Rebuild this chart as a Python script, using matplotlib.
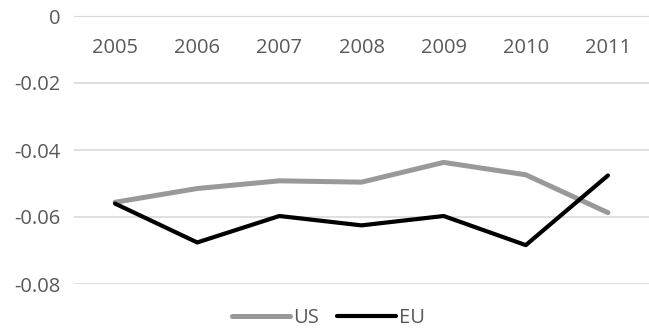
import matplotlib.pyplot as plt
import numpy as np

years = ['2005', '2006', '2007', '2008', '2009', '2010', '2011']
us = [-0.0556, -0.0515, -0.0492, -0.0496, -0.0437, -0.0474, -0.0587]
eu = [-0.0560, -0.0676, -0.0597, -0.0625, -0.0597, -0.0684, -0.0476]
yticks = [0, -0.02, -0.04, -0.06, -0.08]
ylabels = ['0', '-0.02', '-0.04', '-0.06', '-0.08']

plt.rcParams['font.family'] = ['Open Sans', 'DejaVu Sans']
txt = '#595959'

fig = plt.figure(figsize=(6.49, 3.31), dpi=100)
ax = fig.add_axes([74/649, 1-284/331, 1-74/649, (284-16)/331])

x = np.arange(len(years))
ax.plot(x, us, color='#999999', lw=3.6, solid_capstyle='round', label='US')
ax.plot(x, eu, color='black', lw=3.0, solid_capstyle='round', label='EU')

ax.set_xlim(-0.5, len(years)-0.5)
ax.set_ylim(-0.08, 0)
ax.set_yticks(yticks)
ax.set_yticklabels(ylabels)
ax.grid(axis='y', color='#d9d9d9', lw=1.2)
ax.set_axisbelow(True)
for s in ['left', 'right', 'top']:
    ax.spines[s].set_visible(False)
ax.spines['bottom'].set_position(('data', 0))
ax.spines['bottom'].set_color('#d9d9d9')
ax.set_xticks(x)
ax.set_xticklabels(years)
ax.tick_params(axis='x', length=0, pad=16, labelsize=14.5, labelcolor=txt)
ax.tick_params(axis='y', length=0, pad=10, labelsize=14.5, labelcolor=txt)

fig.legend(loc='center', bbox_to_anchor=(0.506, 1-318/331), ncol=2, frameon=False,
           fontsize=14.5, labelcolor=txt, handlelength=2.9, handletextpad=0.15, columnspacing=0.9)

fig.savefig('out.png', dpi=100)
